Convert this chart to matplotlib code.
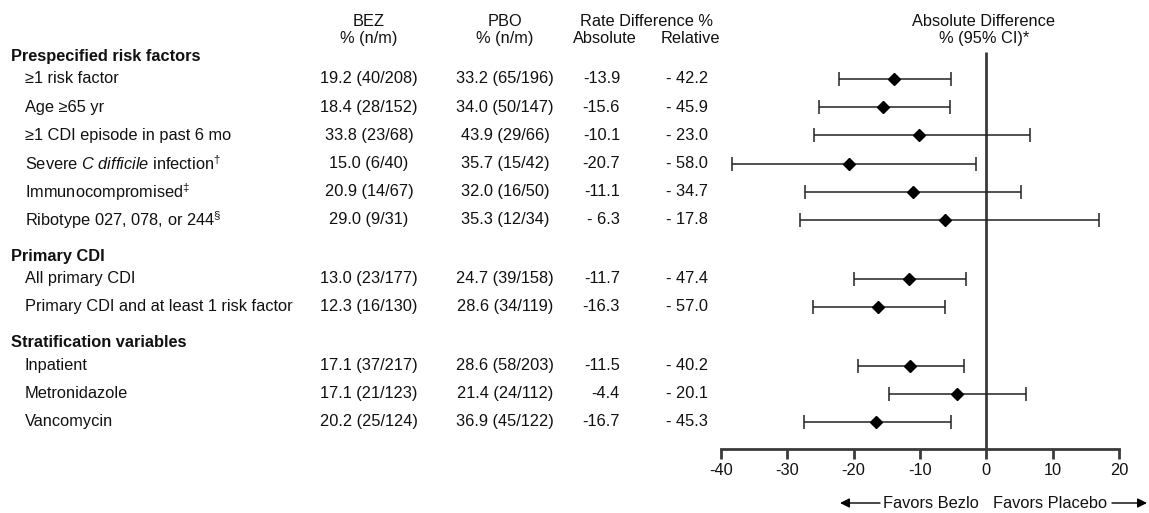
import matplotlib
matplotlib.use("Agg")
import matplotlib.pyplot as plt
import matplotlib.transforms as mtransforms

plt.rcParams['font.family'] = ['Liberation Sans', 'DejaVu Sans']
plt.rcParams['mathtext.fontset'] = 'custom'
plt.rcParams['mathtext.rm'] = 'Liberation Sans'
plt.rcParams['mathtext.it'] = 'Liberation Sans:italic'
plt.rcParams['mathtext.bf'] = 'Liberation Sans:bold'
plt.rcParams['axes.unicode_minus'] = False

# ---- data ----
groups = ["Prespecified risk factors", "Primary CDI", "Stratification variables"]
group_sizes = [6, 2, 3]

labels = [
    "≥1 risk factor",
    "Age ≥65 yr",
    "≥1 CDI episode in past 6 mo",
    r"Severe $\mathit{C\ difficile}$ infection$^{\dagger}$",
    r"Immunocompromised$^{\ddagger}$",
    r"Ribotype 027, 078, or 244$^{\S}$",
    "All primary CDI",
    "Primary CDI and at least 1 risk factor",
    "Inpatient",
    "Metronidazole",
    "Vancomycin",
]
bez = ["19.2 (40/208)", "18.4 (28/152)", "33.8 (23/68)", "15.0 (6/40)",
       "20.9 (14/67)", "29.0 (9/31)", "13.0 (23/177)", "12.3 (16/130)",
       "17.1 (37/217)", "17.1 (21/123)", "20.2 (25/124)"]
pbo = ["33.2 (65/196)", "34.0 (50/147)", "43.9 (29/66)", "35.7 (15/42)",
       "32.0 (16/50)", "35.3 (12/34)", "24.7 (39/158)", "28.6 (34/119)",
       "28.6 (58/203)", "21.4 (24/112)", "36.9 (45/122)"]
abs_text = ["-13.9", "-15.6", "-10.1", "-20.7", "-11.1", "- 6.3",
            "-11.7", "-16.3", "-11.5", "-4.4", "-16.7"]
rel_text = ["- 42.2", "- 45.9", "- 23.0", "- 58.0", "- 34.7", "- 17.8",
            "- 47.4", "- 57.0", "- 40.2", "- 20.1", "- 45.3"]
abs_diff = [-13.9, -15.6, -10.1, -20.7, -11.1, -6.3, -11.7, -16.3, -11.5, -4.4, -16.7]
ci_low = [-22.2, -25.3, -26.0, -38.4, -27.3, -28.1, -20.0, -26.2, -19.3, -14.6, -27.5]
ci_high = [-5.3, -5.5, 6.6, -1.6, 5.2, 17.0, -3.1, -6.2, -3.3, 6.0, -5.3]

xticks = [-40, -30, -20, -10, 0, 10, 20]

# ---- row layout (row units) ----
header_y = []
row_y = []
y = -0.8
for n in group_sizes:
    header_y.append(y)
    y += 0.8
    for k in range(n):
        row_y.append(y)
        y += 1.0 if k < n - 1 else 0
    y += 1.28

W, H = 1149, 513
fig = plt.figure(figsize=(W / 100, H / 100), dpi=100)
ax = fig.add_axes([721 / W, (H - 449) / H, 398 / W, 449 / H])
ax.set_xlim(-40, 20)
ax.set_ylim(13.12, -2.8)

fs = 11.8
col = "#111111"

ax.errorbar(abs_diff, row_y, xerr=[[a - l for a, l in zip(abs_diff, ci_low)],
                                    [h - a for a, h in zip(abs_diff, ci_high)]],
            fmt="D", color="black", ms=6, ecolor="#222222", elinewidth=1.1,
            capsize=5, capthick=1.1, clip_on=False, zorder=3)
ax.vlines(0, -0.97, 13.12, color="#3a3a3a", lw=2.0, zorder=2)

for s in ["top", "left", "right"]:
    ax.spines[s].set_visible(False)
ax.spines["bottom"].set_linewidth(2.0)
ax.spines["bottom"].set_color("#3a3a3a")
ax.set_yticks([])
ax.set_xticks(xticks)
ax.tick_params(axis="x", length=7, width=2.0, color="#3a3a3a", labelsize=fs,
               labelcolor=col, pad=3)

# ---- text columns ----
tr = mtransforms.blended_transform_factory(fig.transFigure, ax.transData)


def fx(px):
    return px / W


for gname, gy in zip(groups, header_y):
    fig.text(fx(11), gy, gname, transform=tr, fontsize=fs, fontweight="bold",
             va="center", ha="left", color=col)

for i, yy in enumerate(row_y):
    fig.text(fx(25), yy, labels[i], transform=tr, fontsize=fs, va="center",
             ha="left", color=col)
    fig.text(fx(369), yy, bez[i], transform=tr, fontsize=fs, va="center",
             ha="center", color=col)
    fig.text(fx(505), yy, pbo[i], transform=tr, fontsize=fs, va="center",
             ha="center", color=col)
    fig.text(fx(620), yy, abs_text[i], transform=tr, fontsize=fs, va="center",
             ha="right", color=col)
    fig.text(fx(708), yy, rel_text[i], transform=tr, fontsize=fs, va="center",
             ha="right", color=col)

# column headers
h1 = 1 - 22 / H
h2 = 1 - 39 / H
fig.text(fx(369), h1, "BEZ", fontsize=fs, ha="center", va="center", color=col)
fig.text(fx(369), h2, "% (n/m)", fontsize=fs, ha="center", va="center", color=col)
fig.text(fx(505), h1, "PBO", fontsize=fs, ha="center", va="center", color=col)
fig.text(fx(505), h2, "% (n/m)", fontsize=fs, ha="center", va="center", color=col)
fig.text(fx(647), h1, "Rate Difference %", fontsize=fs, ha="center", va="center", color=col)
fig.text(fx(605), h2, "Absolute", fontsize=fs, ha="center", va="center", color=col)
fig.text(fx(690), h2, "Relative", fontsize=fs, ha="center", va="center", color=col)
fig.text(fx(984), h1, "Absolute Difference", fontsize=fs, ha="center", va="center", color=col)
fig.text(fx(984), h2, "% (95% CI)*", fontsize=fs, ha="center", va="center", color=col)

# favors labels with arrows
fy = 1 - 503 / H
fig.text(fx(979), fy, "Favors Bezlo", fontsize=fs, ha="right", va="center", color=col)
fig.text(fx(993), fy, "Favors Placebo", fontsize=fs, ha="left", va="center", color=col)
ap = dict(arrowstyle="-|>", color="black", lw=1.0, mutation_scale=14,
          shrinkA=0, shrinkB=0)
fig.add_artist(matplotlib.patches.FancyArrowPatch((fx(880), fy), (fx(840), fy),
               transform=fig.transFigure, **ap))
fig.add_artist(matplotlib.patches.FancyArrowPatch((fx(1112), fy), (fx(1147), fy),
               transform=fig.transFigure, **ap))

fig.savefig("out.png", dpi=100, facecolor="white")
